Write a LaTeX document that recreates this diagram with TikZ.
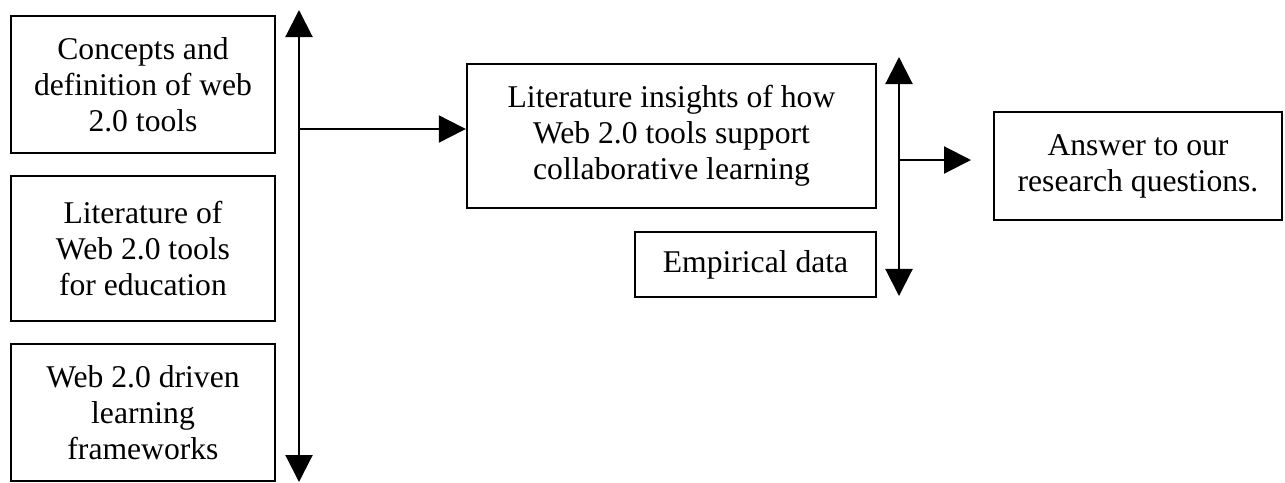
\documentclass[tikz,border=0pt]{standalone}
\usepackage{fontspec}
\setmainfont{Liberation Serif}
\usetikzlibrary{arrows.meta}
\begin{document}
\begin{tikzpicture}[x=0.025cm,y=-0.025cm,shape=rectangle,
    font=\fontsize{22.5}{25.5}\selectfont,
    box/.style={draw,line width=1.6pt,align=center,inner sep=0pt},
    tip/.style={line width=1.5pt,{Triangle[length=0.675cm,width=0.675cm]}-{Triangle[length=0.675cm,width=0.675cm]}},
    onetip/.style={line width=1.5pt,-{Triangle[length=0.675cm,width=0.675cm]}}]
    \useasboundingbox (0,0) rectangle (1285,482);

    \node[box,minimum width=6.6cm,minimum height=3.425cm] (A) at (143,84.5) {Concepts and\\definition of web\\2.0 tools};
    \node[box,minimum width=6.6cm,minimum height=3.625cm] (B) at (143,248.5) {Literature of\\Web 2.0 tools\\for education};
    \node[box,minimum width=6.6cm,minimum height=3.425cm] (C) at (143,412.5) {Web 2.0 driven\\learning\\frameworks};
    \node[box,minimum width=10.225cm,minimum height=3.6cm] (D) at (671.5,136) {Literature insights of how\\Web 2.0 tools support\\collaborative learning};
    \node[box,minimum width=6.025cm,minimum height=1.625cm] (E) at (755.5,264.5) {Empirical data};
    \node[box,minimum width=7.2cm,minimum height=2.7cm] (F) at (1138,166) {Answer to our\\research questions.};

    \coordinate (P) at (299,10);
    \coordinate (Q) at (299,482);
    \coordinate (R) at (299,129);
    \coordinate (S) at (899,57);
    \coordinate (T) at (899,296);
    \coordinate (U) at (899,160);
    \coordinate (V) at (971,160);

    \draw[tip] (Q) -- (P);
    \draw[onetip] (R) -- (R -| D.west);
    \draw[tip] (T) -- (S);
    \draw[onetip] (U) -- (V);
\end{tikzpicture}
\end{document}
